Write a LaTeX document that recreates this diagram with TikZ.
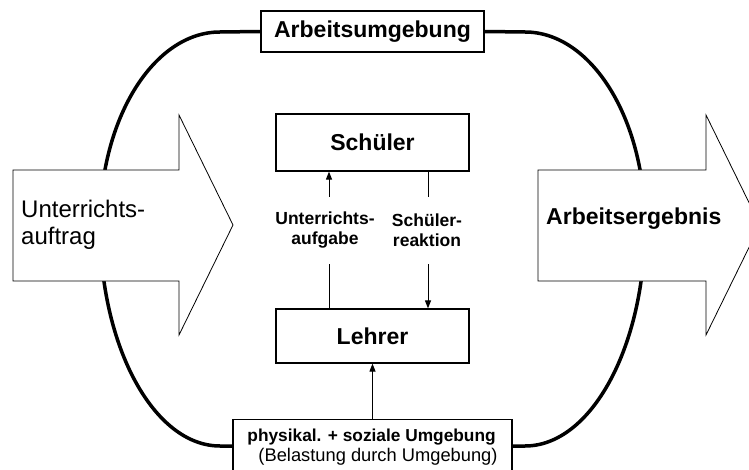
\documentclass[tikz,border=0pt]{standalone}
\usepackage{fontspec}
\setmainfont{Liberation Sans}
\usetikzlibrary{arrows.meta}

\begin{document}
\begin{tikzpicture}[x=1pt,y=-1pt,
    kasten/.style={draw, fill=white, line width=1.2pt, inner sep=0pt, font=\bfseries\fontsize{23}{27}\selectfont},
    beschr/.style={align=center, inner sep=0pt, minimum height=67pt, font=\bfseries\fontsize{17.5}{20}\selectfont},
    linie/.style={line width=1pt},
    pfeil/.style={line width=1pt, -{Triangle[length=8pt,width=6pt]}},
    rand/.style={line width=3.5pt},
    blockpfeil/.style={draw, fill=white, line width=0.8pt, line join=miter}]
    \useasboundingbox (0,0) rectangle (749,470);
    \clip (0,0) rectangle (749,470);
    \fill[white] (0,0) rectangle (749,470);
    % Kaesten
    \node[kasten, minimum width=223pt, minimum height=41pt] (arbeit) at (372.5,31.5) {Arbeitsumgebung};
    \node[kasten, minimum width=193pt, minimum height=57pt] (schueler) at (372.5,142.5) {Schüler};
    \node[kasten, minimum width=193pt, minimum height=54pt] (lehrer) at (372.5,336) {Lehrer};
    \node[kasten, anchor=north, minimum width=279pt, minimum height=56pt, align=left, font=\fontsize{17.3}{20}\selectfont] (umgebung) at (372.5,419)
        {{\bfseries physikal. + soziale Umgebung}\\\hspace*{11pt}{\fontsize{18.3}{20}\selectfont(Belastung durch Umgebung)}};
    % Umgebung (Oval)
    \coordinate (ul) at (220,446);
    \coordinate (ur) at (525,446);
    \draw[rand] (arbeit.west) -- (220,32) .. controls (154,32) and (100,118) .. (100,225)
        .. controls (100,347) and (154,446) .. (ul) -- (ul -| umgebung.west);
    \draw[rand] (arbeit.east) -- (525,32) .. controls (591,32) and (645,118) .. (645,225)
        .. controls (645,347) and (591,446) .. (ur) -- (ur -| umgebung.east);
    % Blockpfeile
    \filldraw[blockpfeil] (13,170) -- (179,170) -- (179,115) -- (233,225) -- (179,335) -- (179,281) -- (13,281) -- cycle;
    \filldraw[blockpfeil] (538,170) -- (706,170) -- (706,115) -- (760,225) -- (706,335) -- (706,281) -- (538,281) -- cycle;
    \node[anchor=west, align=left, inner sep=0pt, font=\fontsize{24}{27}\selectfont] (auftrag) at (21,225) {Unterrichts-\\auftrag};
    \node[anchor=base west, inner sep=0pt, font=\bfseries\fontsize{23}{27}\selectfont] (ergebnis) at (546,225) {Arbeitsergebnis};
    % Beschriftungen
    \node[beschr] (aufgabe) at (325,230.5) {Unterrichts-\\aufgabe};
    \node[beschr] (reaktion) at (427,230.5) {Schüler-\\reaktion};
    \coordinate (links) at (329,0);
    \coordinate (rechts) at (428,0);
    \draw[pfeil] (aufgabe.north -| links) -- (schueler.south -| links);
    \draw[linie] (lehrer.north -| links) -- (aufgabe.south -| links);
    \draw[linie] (schueler.south -| rechts) -- (reaktion.north -| rechts);
    \draw[pfeil] (reaktion.south -| rechts) -- (lehrer.north -| rechts);
    \draw[pfeil] (umgebung.north) -- (lehrer.south);
\end{tikzpicture}
\end{document}
